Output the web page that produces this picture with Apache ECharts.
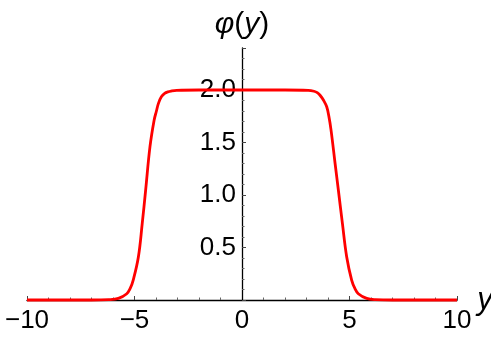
<!DOCTYPE html>
<html>
<head>
<meta charset="utf-8">
<script src="https://cdn.jsdelivr.net/npm/echarts@6/dist/echarts.min.js"></script>
<style>
  html, body { margin: 0; padding: 0; background: #fff; }
  #chart { width: 491px; height: 341px; }
</style>
</head>
<body>
<div id="chart"></div>
<script>
// values
const yVals   = [-10, -7, -6.2, -5.75, -5.36, -5.2, -5.06, -4.82, -4.64, -4.48, -4.28, -4.09, -3.98, -3.89, -3.75, -3.58, -3.45, -3.3, -3.04, -2, 0, 2, 3.08, 3.35, 3.5, 3.63, 3.8, 3.94, 4.04, 4.14, 4.33, 4.48, 4.67, 4.87, 5.10, 5.25, 5.41, 5.80, 6.2, 7, 10]
const phiVals = [0, 0, 0.003, 0.015, 0.06, 0.11, 0.19, 0.41, 0.73, 1.05, 1.46, 1.71, 1.80, 1.87, 1.935, 1.97, 1.982, 1.99, 1.997, 2, 2, 2, 1.997, 1.988, 1.975, 1.95, 1.90, 1.84, 1.75, 1.62, 1.30, 1.05, 0.73, 0.41, 0.19, 0.11, 0.06, 0.015, 0.003, 0, 0]
const xTicks  = [-10, -5, 0, 5, 10]
const phiTicks = [0.5, 1.0, 1.5, 2.0]

const font = 'Liberation Sans, Arial, sans-serif'
const minus = v => (v < 0 ? '\u2212' + Math.abs(v) : String(v))

// grid is 430px wide, y axis sits at x = 0 (the middle)
const gridLeft = 27, gridRight = 34
const yAxisShift = -(491 - gridLeft - gridRight) / 2

var chart = echarts.init(document.getElementById('chart'))

const option = {
    animation: false,
    grid: { left: gridLeft, right: gridRight, top: 48, bottom: 41, containLabel: false, outerBoundsMode: 'none' },
    xAxis: {
        type: 'value',
        min: -10,
        max: 10,
        interval: 5,
        name: 'y',
        nameLocation: 'end',
        nameGap: 1,
        nameTextStyle: { fontFamily: font, fontSize: 31, fontStyle: 'italic', color: '#000', verticalAlign: 'middle', padding: [12, 0, 0, 0] },
        axisLine: { onZero: true, lineStyle: { color: '#000', width: 1.3 } },
        axisTick: { inside: true, length: 4, lineStyle: { color: '#444' } },
        minorTick: { show: true, splitNumber: 5, length: 2.5, lineStyle: { color: '#666' } },
        splitLine: { show: false },
        axisLabel: {
            margin: 8,
            fontFamily: font, fontSize: 26, color: '#000',
            formatter: v => (xTicks.includes(v) ? minus(v) : '')
        }
    },
    yAxis: {
        type: 'value',
        min: 0,
        max: 2.4,
        interval: 0.5,
        position: 'left',
        offset: yAxisShift,
        z: 3,
        name: '{i|φ}({i|y})',
        nameLocation: 'end',
        nameGap: 8,
        nameTextStyle: {
            fontFamily: font, fontSize: 30, color: '#000',
            rich: { i: { fontFamily: font, fontSize: 30, fontStyle: 'italic', color: '#000' } }
        },
        axisLine: { onZero: false, lineStyle: { color: '#000', width: 1.3 } },
        axisTick: { inside: true, length: 4, lineStyle: { color: '#444' } },
        minorTick: { show: true, splitNumber: 5, length: 2.5, lineStyle: { color: '#666' } },
        splitLine: { show: false },
        axisLabel: {
            margin: 6,
            fontFamily: font, fontSize: 26, color: '#000',
            formatter: v => {
                const hit = phiTicks.find(t => Math.abs(t - v) < 1e-6)
                return hit === undefined ? '' : hit.toFixed(1)
            }
        }
    },
    series: [
        {
            type: 'line',
            data: yVals.map((x, i) => [x, phiVals[i]]),
            showSymbol: false,
            smooth: 0.4,
            clip: false,
            lineStyle: { color: '#ff0000', width: 2.8 }
        }
    ]
}

chart.setOption(option)
</script>
</body>
</html>
